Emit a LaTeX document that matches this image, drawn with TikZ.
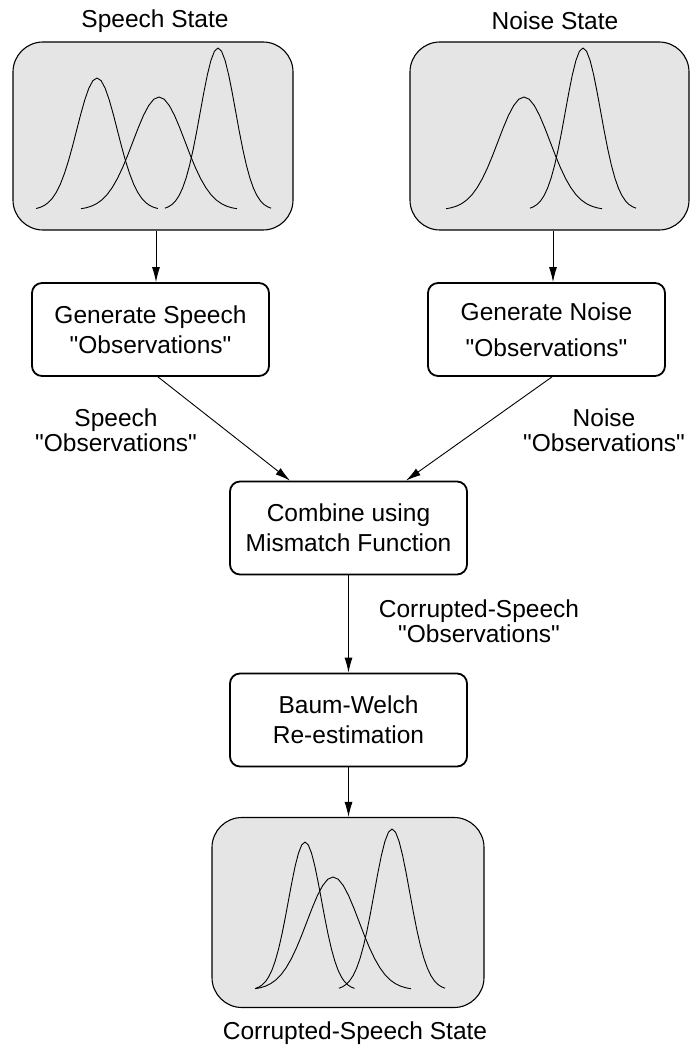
\documentclass[tikz,border=0pt]{standalone}
\usepackage{fontspec}
\setmainfont{Liberation Sans}[Ligatures=TeXOff]
\usetikzlibrary{arrows.meta}
\newcommand\gausscurve[4]{% center, sigma, height, base
  \draw[curvestyle] plot[domain={#1-3*#2}:{#1+3*#2}, samples=31] (\x, {#4 - #3*exp(-0.5*((\x-#1)/#2)^2)});}
\begin{document}
\begin{tikzpicture}[x=1pt,y=-1pt,
  state/.style={draw=black, line width=1.1pt, fill=gray!20, rounded corners=30pt, inner sep=0pt},
  proc/.style={draw=black, line width=1.8pt, rounded corners=10pt, minimum width=237pt,
    minimum height=93pt, align=center, font=\fontsize{24.5}{30}\selectfont, inner sep=0pt},
  lbl/.style={align=center, font=\fontsize{24.5}{25}\selectfont, inner sep=0pt},
  conn/.style={line width=0.9pt, -{Latex[length=15pt,width=8pt]}},
  curvestyle/.style={line width=0.9pt, line join=round}]
\useasboundingbox (0,0) rectangle (694,1048);

% state boxes
\node[state, minimum width=280pt, minimum height=188pt] (ss) at (153,136) {};
\node[state, minimum width=279pt, minimum height=188pt] (ns) at (549.5,136) {};
\node[state, minimum width=272pt, minimum height=190pt] (cs) at (348,912.5) {};

% titles
\node[lbl] (sst) at (155,21) {Speech State};
\node[lbl] (nst) at (555,21) {Noise State};
\node[lbl] (cst) at (355,1033) {Corrupted-Speech State};

% distributions
\gausscurve{97}{20.3}{132}{210}
\gausscurve{159}{26}{113}{210}
\gausscurve{218}{17.7}{162}{210}
\gausscurve{524}{26}{113}{210}
\gausscurve{583}{17.7}{162}{210}
\gausscurve{305}{16.5}{148}{990}
\gausscurve{333}{26}{113}{990}
\gausscurve{392}{17.7}{161}{990}

% process boxes
\node[proc] (gs) at (150.5,329.5) {Generate Speech\\ "Observations"};
\node[proc] (gn) at (546.5,329.5) {Generate Noise\\[6pt] "Observations"};
\node[proc] (cb) at (348.5,528) {Combine using\\ Mismatch Function};
\node[proc] (bw) at (348.5,720) {Baum-Welch\\ Re-estimation};

% labels
\node[lbl] (sl) at (116,430) {Speech\\ "Observations"};
\node[lbl] (nl) at (604,430) {Noise\\ "Observations"};
\node[lbl] (cl) at (479,621.5) {Corrupted-Speech\\ "Observations"};

% connectors
\coordinate (sa) at ([xshift=3pt]ss.south);
\coordinate (na) at ([xshift=3.5pt]ns.south);
\draw[conn] (sa) -- (sa |- gs.north);
\draw[conn] (na) -- (na |- gn.north);
\draw[conn] ([xshift=7.5pt]gs.south) -- ([xshift=-58.5pt]cb.north);
\draw[conn] ([xshift=5.5pt]gn.south) -- ([xshift=57.5pt]cb.north);
\draw[conn] (cb.south) -- (bw.north);
\draw[conn] (bw.south) -- (cs.north -| bw.south);
\end{tikzpicture}
\end{document}
